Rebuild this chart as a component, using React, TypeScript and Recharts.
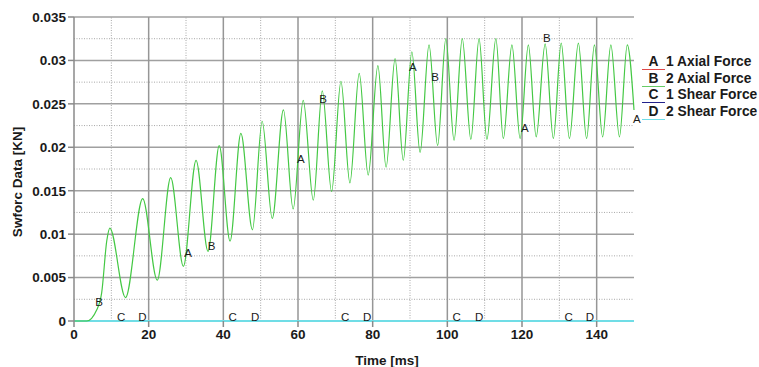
import React from "react";
import {
  ComposedChart,
  Line,
  Scatter,
  XAxis,
  YAxis,
  ReferenceLine,
  Label,
} from "recharts";

const FONT = "'Liberation Sans', Arial, sans-serif";

// 2 Axial Force: turning points (time in ms, force in KN)
const AXIAL_T = [
  0, 3.4, 6.1, 7.4, 8.8, 9.6, 13.8, 18.4, 22.3, 25.9, 29.3, 32.7, 35.9, 38.9, 41.8,
  44.7, 47.8, 50.4, 53.1, 56.1, 58.7, 61.4, 64.1, 66.5, 69.0, 71.5, 73.9, 76.4,
  78.8, 81.4, 83.6, 86.0, 88.2, 90.5, 92.7, 95.1, 97.4, 99.6, 101.8, 104.0, 106.3,
  108.5, 110.6, 113.0, 115.0, 117.3, 119.5, 121.7, 123.8, 126.2, 128.4, 130.5,
  132.7, 135.1, 137.3, 139.4, 141.6, 143.8, 146.1, 148.2, 150,
];
const AXIAL_V = [
  0, 0, 0.0013, 0.0032, 0.0093, 0.0107, 0.0027, 0.0141, 0.0047, 0.0165, 0.0063,
  0.0185, 0.008, 0.0202, 0.0092, 0.0216, 0.0105, 0.023, 0.0118, 0.0243, 0.0129,
  0.0254, 0.0139, 0.0265, 0.0149, 0.0276, 0.0159, 0.0285, 0.0168, 0.0294, 0.0177,
  0.0302, 0.0185, 0.031, 0.0194, 0.0318, 0.0202, 0.0325, 0.0208, 0.0325, 0.0209,
  0.0325, 0.0209, 0.0325, 0.021, 0.0318, 0.021, 0.0318, 0.0212, 0.0319, 0.021,
  0.032, 0.021, 0.032, 0.021, 0.0318, 0.0212, 0.0318, 0.0212, 0.0318, 0.0243,
];

// shear forces stay at zero the whole run
const SHEAR_T = [0, 150];
const SHEAR_V = [0, 0];

// letter markers sitting on each curve
const MARK_A_T = [29.5, 59.7, 89.7, 119.7, 149.7];
const MARK_A_V = [0.0074, 0.0182, 0.0288, 0.0218, 0.0228];
const MARK_B_T = [5.7, 35.8, 65.7, 95.7, 125.6];
const MARK_B_V = [0.0017, 0.0082, 0.0251, 0.0276, 0.0321];
const MARK_C_T = [11.5, 41.4, 71.5, 101.4, 131.4];
const MARK_D_T = [17.2, 47.4, 77.4, 107.4, 137.1];

const X_MAJOR = [0, 20, 40, 60, 80, 100, 120, 140];
const X_MINOR = [10, 30, 50, 70, 90, 110, 130];
const Y_MAJOR = [0, 0.005, 0.01, 0.015, 0.02, 0.025, 0.03, 0.035];
const Y_MINOR = [0.0025, 0.0075, 0.0125, 0.0175, 0.0225, 0.0275, 0.0325];

const LEGEND = [
  { key: "A", name: "1 Axial Force", color: "#e04848" },
  { key: "B", name: "2 Axial Force", color: "#66cc66" },
  { key: "C", name: "1 Shear Force", color: "#22228c" },
  { key: "D", name: "2 Shear Force", color: "#70dde6" },
];

const axialData = AXIAL_T.map((t, i) => ({ t, v: AXIAL_V[i] }));
const shearData = SHEAR_T.map((t, i) => ({ t, v: SHEAR_V[i] }));
const marks = (ts: number[], vs: number[] | null, letter: string) =>
  ts.map((t, i) => ({ t, v: vs ? vs[i] : 0, letter }));

const markData = [
  ...marks(MARK_A_T, MARK_A_V, "A"),
  ...marks(MARK_B_T, MARK_B_V, "B"),
  ...marks(MARK_C_T, null, "C"),
  ...marks(MARK_D_T, null, "D"),
];

function LetterMark(props: any) {
  const { cx, cy, payload } = props;
  if (cx == null || cy == null) return <g />;
  return (
    <text x={cx} y={cy} fontSize={11.5} fontFamily={FONT} fill="#1a1a1a">
      {payload.letter}
    </text>
  );
}

const tickStyle = { fontSize: 13.5, fontWeight: 700, fill: "#1a1a1a", fontFamily: FONT };

export default function App() {
  return (
    <div style={{ position: "absolute", left: 0, top: 0, width: 759, height: 367, background: "#fff" }}>
      <ComposedChart
        width={759}
        height={367}
        margin={{ top: 17, right: 125, left: 14, bottom: 16 }}
      >
        <XAxis
          dataKey="t"
          type="number"
          domain={[0, 150]}
          ticks={X_MAJOR}
          height={30}
          axisLine={false}
          tickLine={{ stroke: "#8a8a8a", strokeWidth: 1.5 }}
          tickSize={6}
          tick={tickStyle}
        >
          <Label
            content={() => (
              <text x={387} y={365} textAnchor="middle" fontSize={13.5} fontWeight={700} fontFamily={FONT} fill="#1a1a1a">
                Time [ms]
              </text>
            )}
          />
        </XAxis>
        <YAxis
          type="number"
          domain={[0, 0.035]}
          ticks={Y_MAJOR}
          width={60}
          axisLine={{ stroke: "#8a8a8a", strokeWidth: 1.5 }}
          tickLine={{ stroke: "#8a8a8a", strokeWidth: 1.5 }}
          tickSize={6}
          tick={tickStyle}
        >
          <Label
            content={() => (
              <text
                x={17}
                y={182}
                transform="rotate(-90 17 182)"
                textAnchor="middle"
                dominantBaseline="central"
                fontSize={13.5}
                fontWeight={700}
                fontFamily={FONT}
                fill="#1a1a1a"
              >
                Swforc Data [KN]
              </text>
            )}
          />
        </YAxis>

        {Y_MINOR.map((y) => (
          <ReferenceLine key={"ym" + y} y={y} stroke="#a8a8a8" strokeDasharray="1 1.5" />
        ))}
        {X_MINOR.map((x) => (
          <ReferenceLine key={"xm" + x} x={x} stroke="#a8a8a8" strokeDasharray="1 1.5" />
        ))}
        {Y_MAJOR.filter((y) => y > 0).map((y) => (
          <ReferenceLine key={"yM" + y} y={y} stroke="#a0a0a0" strokeWidth={1.5} />
        ))}
        {X_MAJOR.filter((x) => x > 0).map((x) => (
          <ReferenceLine key={"xM" + x} x={x} stroke="#969696" strokeWidth={1.5} />
        ))}

        <Line
          data={shearData}
          dataKey="v"
          type="linear"
          stroke="#22228c"
          strokeWidth={1}
          dot={false}
          activeDot={false}
          isAnimationActive={false}
        />
        <Line
          data={shearData}
          dataKey="v"
          type="linear"
          stroke="#70dde6"
          strokeWidth={2}
          dot={false}
          activeDot={false}
          isAnimationActive={false}
        />
        <Line
          data={axialData}
          dataKey="v"
          type="monotone"
          stroke="#44c844"
          strokeWidth={1.2}
          dot={false}
          activeDot={false}
          isAnimationActive={false}
        />
        <Scatter data={markData} dataKey="v" shape={LetterMark} isAnimationActive={false} />
      </ComposedChart>

      <div style={{ position: "absolute", left: 642, top: 53.5, fontFamily: FONT }}>
        {LEGEND.map((l) => (
          <div key={l.key} style={{ display: "flex", alignItems: "flex-end", height: 16.5 }}>
            <div
              style={{
                width: 23,
                textAlign: "center",
                fontSize: 13.8,
                fontWeight: 700,
                lineHeight: "15px",
                color: "#1a1a1a",
                borderBottom: `1.5px solid ${l.color}`,
              }}
            >
              {l.key}
            </div>
            <div style={{ fontSize: 13.8, fontWeight: 700, lineHeight: "16px", color: "#1a1a1a", paddingLeft: 1, whiteSpace: "nowrap" }}>
              {l.name}
            </div>
          </div>
        ))}
      </div>
    </div>
  );
}
